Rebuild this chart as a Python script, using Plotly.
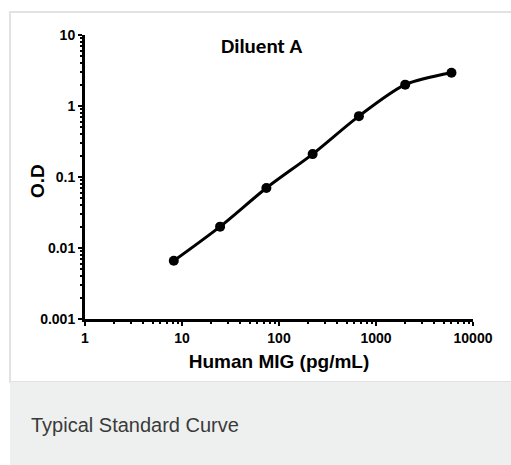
import plotly.graph_objects as go

conc = [8.23, 24.7, 74.1, 222.2, 666.7, 2000, 6000]
od = [0.0066, 0.020, 0.070, 0.21, 0.72, 2.0, 2.94]
x_ticks = [1, 10, 100, 1000, 10000]
x_tick_labels = ["1", "10", "100", "1000", "10000"]
y_ticks = [0.001, 0.01, 0.1, 1, 10]
y_tick_labels = ["0.001", "0.01", "0.1", "1", "10"]

W, H = 511, 465
L, R, T, B = 85, 473, 35, 319

def px(x):
    return (x - L) / (R - L)

def py(y):
    return (B - y) / (B - T)

fig = go.Figure()
fig.add_trace(go.Scatter(
    x=conc, y=od, mode="lines+markers",
    line=dict(color="black", width=3, shape="spline", smoothing=0.8),
    marker=dict(color="black", size=10),
    showlegend=False,
))

axis_common = dict(
    type="log", showline=True, linecolor="black", linewidth=3,
    ticks="outside", ticklen=4, tickwidth=2, tickcolor="black",
    showgrid=False, zeroline=False, automargin=False,
    tickfont=dict(family="Liberation Sans, Arial", size=14, color="black", weight="bold"),
    minor=dict(ticks="outside", dtick="D1", ticklen=2, tickwidth=2, tickcolor="black", showgrid=False),
)

fig.update_layout(
    width=W, height=H,
    margin=dict(l=L, r=W - R, t=T, b=H - B),
    paper_bgcolor="white", plot_bgcolor="white",
    xaxis=dict(axis_common, range=[0, 4], tickvals=x_ticks, ticktext=x_tick_labels,
               title=dict(text="Human MIG (pg/mL)", standoff=10,
                          font=dict(family="Liberation Sans, Arial", size=19, color="black", weight="bold"))),
    yaxis=dict(axis_common, range=[-3, 1], tickvals=y_ticks, ticktext=y_tick_labels),
    shapes=[
        dict(type="rect", xref="paper", yref="paper",
             x0=px(10), x1=px(520), y0=py(12), y1=py(382),
             line=dict(color="#e2e2e2", width=2), fillcolor="rgba(0,0,0,0)", layer="below"),
        dict(type="rect", xref="paper", yref="paper",
             x0=px(10), x1=px(520), y0=py(382), y1=py(470),
             line=dict(width=0), fillcolor="#eef0ef", layer="below"),
    ],
    annotations=[
        dict(text="O.D", xref="paper", yref="paper", x=px(37), y=py(181), textangle=-90,
             showarrow=False, xanchor="center", yanchor="middle",
             font=dict(family="Liberation Sans, Arial", size=19, color="black", weight="bold")),
        dict(text="Diluent A", xref="paper", yref="paper", x=px(261), y=py(46),
             showarrow=False, xanchor="center", yanchor="middle",
             font=dict(family="Carlito, Liberation Sans, Arial", size=21, color="black", weight="bold")),
        dict(text="Typical Standard Curve", xref="paper", yref="paper", x=px(29), y=py(425),
             showarrow=False, xanchor="left", yanchor="middle",
             font=dict(family="Liberation Sans, Arial", size=20, color="#3a3a3a")),
    ],
)

fig.write_html("out.html", config={"displayModeBar": False},
               post_script="document.body.style.margin='0';document.body.style.overflow='hidden';")
